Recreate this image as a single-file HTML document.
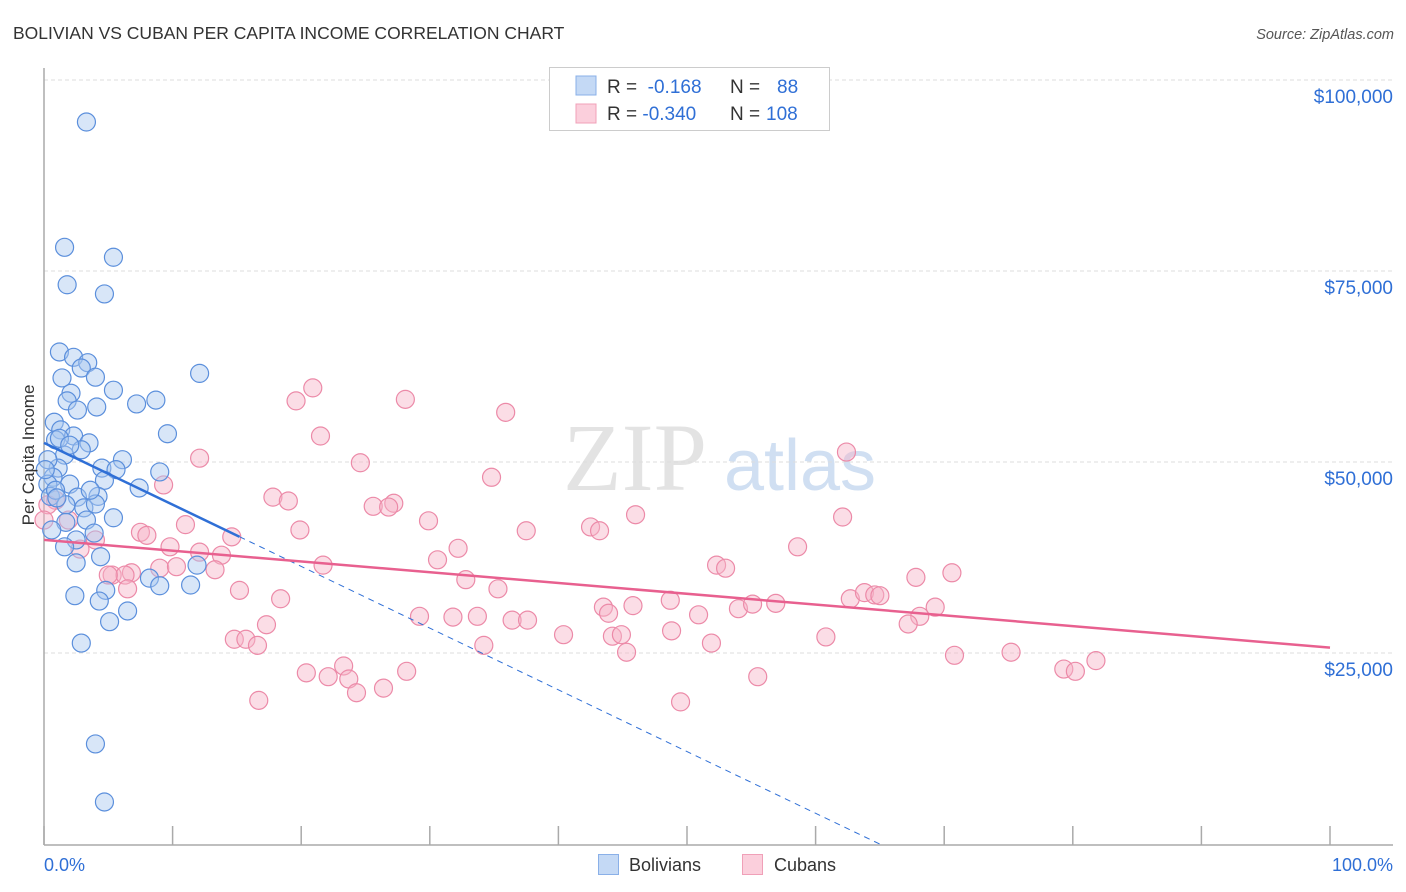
<!DOCTYPE html>
<html><head><meta charset="utf-8"><style>
body{margin:0;background:#fff;font-family:"Liberation Sans",sans-serif}
svg{display:block}
</style></head><body>
<svg id="chart" width="1406" height="892" xmlns="http://www.w3.org/2000/svg">
<text x="13" y="39" font-size="17.5" fill="#333">BOLIVIAN VS CUBAN PER CAPITA INCOME CORRELATION CHART</text>
<text x="1394" y="39" font-size="14.5" fill="#555" font-style="italic" text-anchor="end">Source: ZipAtlas.com</text>
<g>
<text x="635" y="490" font-size="96" fill="#ddd" font-family="Liberation Serif,serif" text-anchor="middle" opacity="0.8">ZIP</text>
<text x="800" y="490" font-size="72" fill="#c5d8ef" text-anchor="middle" opacity="0.8">atlas</text>
</g>
<g id="grid"></g>
<g id="axes"></g>
<g id="pink"></g>
<g id="blue"></g>
<g id="lines"></g>
<text transform="translate(34,455) rotate(-90)" font-size="17" fill="#333" text-anchor="middle">Per Capita Income</text>
<g>
<rect x="549.5" y="67.5" width="280" height="63" fill="#fff" stroke="#ccc"/>
<rect x="576" y="76" width="20" height="19" fill="#c4d9f5" stroke="#8ab0e8"/>
<rect x="576" y="104" width="20" height="19" fill="#fbcfdc" stroke="#f0a0b8"/>
<text x="607" y="93" font-size="19" fill="#333">R = <tspan fill="#2f6fd6">&#160;-0.168</tspan><tspan x="730">N = </tspan><tspan x="777" fill="#2f6fd6">88</tspan></text>
<text x="607" y="120" font-size="19" fill="#333">R = <tspan fill="#2f6fd6">-0.340</tspan><tspan x="730">N = </tspan><tspan x="766" fill="#2f6fd6">108</tspan></text>
</g>
<g>
<rect x="598.5" y="854.5" width="20" height="20" fill="#c4d9f5" stroke="#8ab0e8"/>
<text x="629" y="871" font-size="18" fill="#333">Bolivians</text>
<rect x="742.5" y="854.5" width="20" height="20" fill="#fbcfdc" stroke="#f0a0b8"/>
<text x="774" y="871" font-size="18" fill="#333">Cubans</text>
</g>
</svg>
<script>
const yTicks=[25,50,75,100];
const yTickLabels=["$25,000","$50,000","$75,000","$100,000"];
const xTickLabels=["0.0%","100.0%"];
const bolX=[3.3,1.6,5.4,1.8,4.7,1.2,2.3,3.4,2.9,4.0,1.4,5.4,2.1,4.1,7.2,8.7,1.8,2.6,12.1,0.8,9.6,1.3,2.3,3.5,2.9,0.9,1.6,6.1,4.5,9.0,5.6,1.1,0.7,0.3,2.0,4.7,7.4,2.6,4.2,0.5,0.9,1.7,3.1,4.0,5.4,3.3,1.7,3.9,2.5,1.6,4.4,2.5,8.2,11.9,9.0,11.4,4.8,2.4,4.3,6.5,5.1,2.9,4.0,4.7,0.3,0.6,1.2,2.0,3.6,1.0,0.1];
const bolY=[94.5,78.1,76.8,73.2,72.0,64.4,63.7,63.0,62.3,61.1,61.0,59.4,59.0,57.2,57.6,58.1,58.0,56.8,61.6,55.2,53.7,54.2,53.4,52.5,51.6,52.9,50.9,50.3,49.2,48.7,49.0,49.2,48.0,47.1,47.1,47.6,46.6,45.4,45.5,45.5,46.3,44.4,44.0,44.5,42.7,42.4,42.1,40.7,39.8,38.9,37.6,36.8,34.8,36.5,33.8,33.9,33.2,32.5,31.8,30.5,29.1,26.3,13.1,5.5,50.3,41.1,53.1,52.2,46.3,45.3,49.0];
const cubX=[20.9,19.6,28.1,35.9,21.5,12.1,24.6,34.8,9.3,17.8,19.0,25.6,27.2,26.8,29.9,37.5,42.5,46.0,43.2,62.1,19.9,11.0,7.5,8.0,14.6,32.2,58.6,9.8,12.1,13.8,2.8,62.4,30.6,21.7,52.3,53.0,9.0,10.3,13.3,6.8,5.3,6.3,32.8,35.3,67.8,70.6,15.2,6.5,18.4,69.3,43.5,45.8,48.7,50.9,54.0,55.1,56.9,62.7,63.8,64.6,65.0,68.1,67.2,43.9,29.2,31.8,33.7,36.4,37.6,17.3,40.4,44.2,44.9,48.8,60.8,14.8,15.7,16.6,34.2,51.9,45.3,70.8,75.2,79.3,80.2,81.8,20.4,23.3,22.1,23.7,28.2,55.5,24.3,26.4,16.7,49.5,1.9,0.9,4.0,5.0,0.3,0.0];
const cubY=[59.7,58.0,58.2,56.5,53.4,50.5,49.9,48.0,47.0,45.4,44.9,44.2,44.6,44.1,42.3,41.0,41.5,43.1,41.0,42.8,41.1,41.8,40.8,40.4,40.2,38.7,38.9,38.9,38.2,37.8,38.6,51.3,37.2,36.5,36.5,36.1,36.1,36.3,35.9,35.5,35.2,35.2,34.6,33.4,34.9,35.5,33.2,33.4,32.1,31.0,31.0,31.2,31.9,30.0,30.8,31.4,31.5,32.1,32.9,32.6,32.5,29.8,28.8,30.2,29.8,29.7,29.8,29.3,29.3,28.7,27.4,27.2,27.4,27.9,27.1,26.8,26.8,26.0,26.0,26.3,25.1,24.7,25.1,22.9,22.6,24.0,22.4,23.3,21.9,21.6,22.6,21.9,19.8,20.4,18.8,18.6,42.4,45.0,39.8,35.2,44.4,42.4];
const bolTrend=[52.5,-28.3]; // value at 0% and 100%
const bolSolidEnd=15.2;
const cubTrend=[39.8,25.7];
const NS='http://www.w3.org/2000/svg';
const X0=44,X1=1330,Y0=844,YS=7.64;
const xs=v=>X0+v/100*(X1-X0);
const ys=v=>Y0-v*YS;
function mk(tag,attrs,parent){const e=document.createElementNS(NS,tag);for(const k in attrs)e.setAttribute(k,attrs[k]);parent.appendChild(e);return e;}
const grid=document.getElementById('grid'),axes=document.getElementById('axes');
yTicks.forEach((t,i)=>{
 const l=mk('line',{x1:X0,x2:1393,y1:ys(t),y2:ys(t),stroke:'#ddd','stroke-dasharray':'4,3'},grid);
 
 
 const tx=mk('text',{x:1393,y:ys(t)+23,'font-size':19,fill:'#2f6fd6','text-anchor':'end'},axes);
 tx.textContent=yTickLabels[i];
 
 
});
const ya=mk('line',{x1:X0,x2:X0,y1:68,y2:845,stroke:'#aaa','stroke-width':1.5},axes);


const xa=mk('line',{x1:X0,x2:1393,y1:845,y2:845,stroke:'#aaa','stroke-width':1.5},axes);


for(let i=0;i<=10;i++){
 const tk=mk('line',{x1:xs(i*10),x2:xs(i*10),y1:826,y2:845,stroke:'#aaa','stroke-width':1.5},axes);
 
 
}
const xl0=mk('text',{x:44,y:871,'font-size':18,fill:'#2f6fd6'},axes);xl0.textContent=xTickLabels[0];


const xl1=mk('text',{x:1393,y:871,'font-size':18,fill:'#2f6fd6','text-anchor':'end'},axes);xl1.textContent=xTickLabels[1];


function dots(X,Y,g,fill,stroke,name){X.forEach((x,i)=>{
 const c=mk('circle',{cx:xs(x),cy:ys(Y[i]),r:9,fill:fill,'fill-opacity':0.45,stroke:stroke,'stroke-width':1.2},g);
 
 
});}
dots(cubX,cubY,document.getElementById('pink'),'#f7b3c8','#ec8aa8','cuban-point');
dots(bolX,bolY,document.getElementById('blue'),'#a8c8f0','#5b8fdc','bolivian-point');
const lg=document.getElementById('lines');
const bAt=p=>bolTrend[0]+(bolTrend[1]-bolTrend[0])*p/100;
const cAt=p=>cubTrend[0]+(cubTrend[1]-cubTrend[0])*p/100;
const zeroP=bolTrend[0]/(bolTrend[0]-bolTrend[1])*100;
const bd=mk('line',{x1:xs(bolSolidEnd),y1:ys(bAt(bolSolidEnd)),x2:xs(zeroP),y2:ys(0),stroke:'#2f6fd6','stroke-width':1,'stroke-dasharray':'6,5'},lg);


const bs=mk('line',{x1:xs(0),y1:ys(bAt(0)),x2:xs(bolSolidEnd),y2:ys(bAt(bolSolidEnd)),stroke:'#2f6fd6','stroke-width':2.5},lg);


const cs=mk('line',{x1:xs(0),y1:ys(cAt(0)),x2:xs(100),y2:ys(cAt(100)),stroke:'#e8608f','stroke-width':2.5},lg);


</script>
</body></html>
